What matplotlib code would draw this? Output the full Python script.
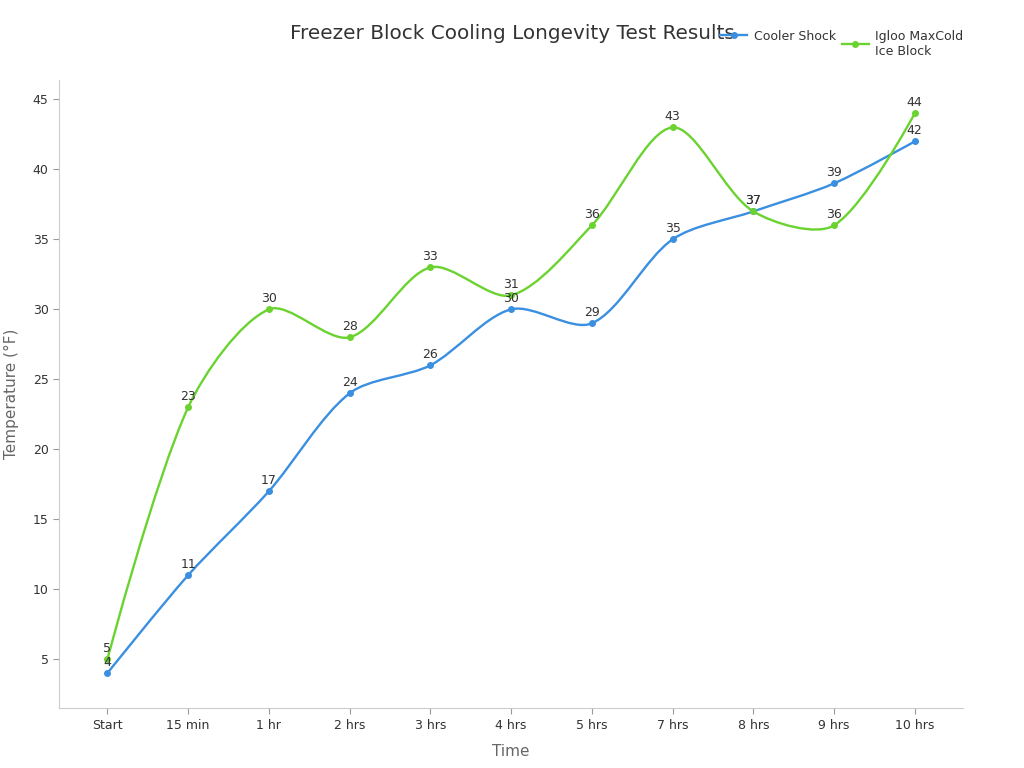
import numpy as np
import matplotlib
matplotlib.use("Agg")
import matplotlib.pyplot as plt
from matplotlib.path import Path
from matplotlib import patches
from matplotlib.lines import Line2D

# data
time_labels = ["Start", "15 min", "1 hr", "2 hrs", "3 hrs", "4 hrs", "5 hrs",
               "7 hrs", "8 hrs", "9 hrs", "10 hrs"]
cooler_shock = [4, 11, 17, 24, 26, 30, 29, 35, 37, 39, 42]
igloo_maxcold = [5, 23, 30, 28, 33, 31, 36, 43, 37, 36, 44]

BLUE = "#3a8fe0"
GREEN = "#6ad330"
SMOOTH = 0.3


def smooth_path(ax, xs, ys, smooth=SMOOTH):
    # bezier through the points, control points built in screen space
    pts = ax.transData.transform(np.column_stack([xs, ys]))
    n = len(pts)
    verts = [pts[0]]
    codes = [Path.MOVETO]
    cp0 = pts[0]
    for i in range(1, n):
        p = pts[i]
        if i == n - 1:
            cp1 = p
            nxt_cp = p
        else:
            prev, nxt = pts[i - 1], pts[i + 1]
            v = nxt - prev
            len_prev = np.hypot(*(p - prev))
            len_next = np.hypot(*(nxt - p))
            ratio = len_next / (len_next + len_prev)
            cp1 = p - v * smooth * (1 - ratio)
            nxt_cp = p + v * smooth * ratio
        verts += [cp0, cp1, p]
        codes += [Path.CURVE4] * 3
        cp0 = nxt_cp
    verts = ax.transData.inverted().transform(np.array(verts))
    return Path(verts, codes)


fig = plt.figure(figsize=(10.24, 7.68), dpi=100)
ax = fig.add_axes([0.0576, 0.078, 0.883, 0.818])

x = np.arange(len(time_labels))
ax.set_xlim(-0.6, 10.6)
ax.set_ylim(1.5, 46.4)

for series, color in ((cooler_shock, BLUE), (igloo_maxcold, GREEN)):
    ax.add_patch(patches.PathPatch(smooth_path(ax, x, series), edgecolor=color,
                                   facecolor="none", lw=1.7))
    ax.plot(x, series, "o", color=color, ms=4)
    for xi, yi in zip(x, series):
        ax.annotate(str(yi), (xi, yi), xytext=(0, 3), textcoords="offset points",
                    ha="center", va="bottom", fontsize=9, color="#333333")

ax.set_xticks(x)
ax.set_xticklabels(time_labels)
ax.set_yticks([5, 10, 15, 20, 25, 30, 35, 40, 45])
ax.tick_params(labelsize=9, colors="#333333", length=4)
ax.tick_params(axis="both", color="#999999")

for side in ("top", "right"):
    ax.spines[side].set_visible(False)
for side in ("left", "bottom"):
    ax.spines[side].set_color("#cccccc")

ax.set_xlabel("Time", fontsize=11, color="#666666", labelpad=9)
ax.set_ylabel("Temperature (°F)", fontsize=11, color="#666666", labelpad=10)

fig.text(0.5005, 0.957, "Freezer Block Cooling Longevity Test Results",
         ha="center", va="center", fontsize=14.4, color="#333333")

# two legends so the single-line entry sits on the top row like the reference
blue_handle = Line2D([], [], color=BLUE, lw=1.7, marker="o", ms=4)
green_handle = Line2D([], [], color=GREEN, lw=1.7, marker="o", ms=4)
fig.legend([blue_handle], ["Cooler Shock"], loc="upper left",
           bbox_to_anchor=(0.692, 0.976), frameon=False, fontsize=9,
           handlelength=2.2, handletextpad=0.5, labelcolor="#333333")
fig.legend([green_handle], ["Igloo MaxCold\nIce Block"], loc="upper left",
           bbox_to_anchor=(0.811, 0.976), frameon=False, fontsize=9,
           handlelength=2.2, handletextpad=0.5, labelcolor="#333333")

fig.savefig("out.png", dpi=100)
